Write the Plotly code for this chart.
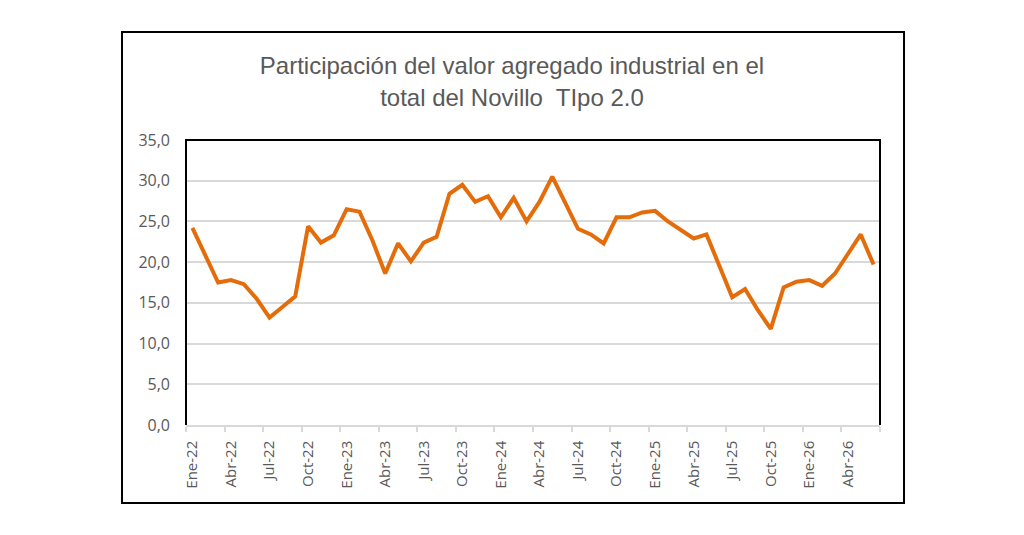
import plotly.graph_objects as go

# mes abreviado y años del período
meses = ['Ene', 'Feb', 'Mar', 'Abr', 'May', 'Jun',
         'Jul', 'Ago', 'Sep', 'Oct', 'Nov', 'Dic']
anios = ['22', '23', '24', '25', '26']

# participación (%) del valor agregado industrial, Ene-22 a Jun-26
participacion = [
    24.2, 20.9, 17.5, 17.8, 17.3, 15.5, 13.2, 14.5, 15.8, 24.4, 22.4, 23.3,
    26.5, 26.2, 22.7, 18.6, 22.3, 20.1, 22.4, 23.1, 28.4, 29.5, 27.4, 28.1,
    25.5, 27.9, 25.0, 27.4, 30.5, 27.3, 24.1, 23.4, 22.3, 25.5, 25.5, 26.1,
    26.3, 25.0, 24.0, 22.9, 23.4, 19.5, 15.7, 16.7, 14.1, 11.8, 16.9, 17.6,
    17.8, 17.1, 18.6, 21.0, 23.4, 19.7,
]

periodos = [m + '-' + a for a in anios for m in meses][:len(participacion)]

trace = go.Scatter(
    x=periodos,
    y=participacion,
    mode='lines',
    line=dict(color='#E46C0A', width=4),
    hoverinfo='x+y',
)

gris = '#595959'
fig = go.Figure(data=[trace])

# la página tiene 8px de margen en el body: 1008x519 llena la ventana
fig.update_layout(
    width=1008,
    height=519,
    separators=',.',
    paper_bgcolor='white',
    plot_bgcolor='white',
    showlegend=False,
    margin=dict(l=178, r=136, t=132, b=102),
    title=dict(
        text='Participación del valor agregado industrial en el<br>total del Novillo  TIpo 2.0',
        x=0.5,
        xref='container',
        xanchor='center',
        y=0.872,
        yref='container',
        yanchor='top',
        font=dict(family='Liberation Sans Narrow, Liberation Sans, Arial', size=24, color=gris),
    ),
    xaxis=dict(
        type='category',
        range=[-0.5, len(periodos) - 0.5],
        dtick=3,
        tickson='boundaries',
        ticks='outside',
        ticklen=5,
        tickcolor='#D9D9D9',
        tickwidth=1.5,
        tickangle=-90,
        ticklabelstandoff=8,
        showgrid=False,
        showline=True,
        linecolor='#D9D9D9',
        linewidth=1.5,
        tickfont=dict(family='Open Sans, Noto Sans', size=15, color=gris),
        fixedrange=True,
    ),
    yaxis=dict(
        range=[0, 35],
        dtick=5,
        tickformat='.1f',
        showgrid=True,
        gridcolor='#D9D9D9',
        gridwidth=1.5,
        zeroline=False,
        ticks='',
        ticklabelstandoff=15,
        tickfont=dict(family='Open Sans, Noto Sans', size=16, color=gris),
        fixedrange=True,
    ),
    shapes=[
        # borde del área de trazado (izq, arriba, der)
        dict(type='path', xref='paper', yref='paper',
             path='M 0,0 L 0,1 L 1,1 L 1,0',
             line=dict(color='black', width=2)),
        # marco exterior del gráfico
        dict(type='rect', xref='paper', yref='paper',
             x0=-0.0922, x1=1.0346, y0=-0.2737, y1=1.379,
             line=dict(color='black', width=2), layer='below'),
    ],
)

fig.write_html('out.html')
